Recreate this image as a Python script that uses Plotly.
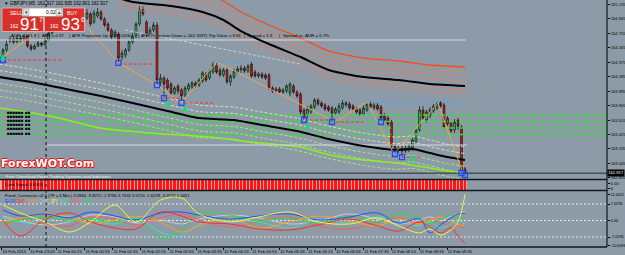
import plotly.graph_objects as go

# ---------------- DATA ----------------
opens = [164.444,164.537,164.655,164.681,164.642,164.694,164.668,164.721,164.589,164.550,
         164.589,164.629,164.602,164.668,164.760,164.826,164.878,164.852,164.918,164.892,
         164.957,164.931,164.997,164.970,164.957,165.010,164.905,164.984,165.036,164.944,
         164.878,164.800,164.721,164.747,164.444,164.471,164.537,164.642,164.721,164.878,
         165.063,164.905,164.747,164.800,164.865,164.116,164.168,164.142,164.089,163.971,
         164.063,164.011,163.945,164.024,164.050,164.103,164.076,164.129,164.221,164.168,
         164.247,164.326,164.274,164.208,164.274,164.116,164.181,164.247,164.274,164.300,
         164.260,164.352,164.247,164.195,164.221,164.208,164.208,164.037,163.997,164.024,
         163.984,163.997,163.971,164.063,163.984,163.958,163.748,163.682,163.721,163.787,
         163.879,163.840,163.813,163.787,163.774,163.708,163.721,163.774,163.813,163.826,
         163.800,163.761,163.748,163.695,163.748,163.826,163.774,163.813,163.787,163.669,
         163.642,163.590,163.274,163.222,163.248,163.208,163.222,163.248,163.340,163.485,
         163.748,163.616,163.669,163.734,163.774,163.840,163.813,163.642,163.577,163.485,
         163.616,163.524,162.972]
highs = [164.563,164.668,164.721,164.707,164.734,164.734,164.747,164.734,164.615,164.615,
         164.655,164.642,164.694,164.800,164.852,164.905,164.918,164.944,164.957,164.984,
         164.997,165.023,165.036,165.049,165.076,165.036,165.063,165.089,165.063,164.970,
         164.905,164.826,164.800,164.773,164.537,164.563,164.668,164.760,164.905,165.128,
         165.115,164.931,164.839,164.905,164.905,164.221,164.195,164.168,164.116,164.063,
         164.089,164.037,164.063,164.103,164.129,164.129,164.168,164.260,164.247,164.287,
         164.379,164.379,164.300,164.300,164.300,164.221,164.287,164.326,164.339,164.326,
         164.352,164.379,164.274,164.247,164.247,164.234,164.234,164.063,164.050,164.050,
         164.037,164.089,164.116,164.089,164.011,163.984,163.774,163.800,163.826,163.905,
         163.905,163.866,163.840,163.813,163.800,163.787,163.840,163.879,163.866,163.853,
         163.826,163.787,163.774,163.813,163.853,163.853,163.840,163.840,163.813,163.708,
         163.682,163.616,163.300,163.274,163.274,163.287,163.300,163.379,163.524,163.800,
         163.800,163.748,163.787,163.826,163.853,163.866,163.840,163.669,163.603,163.629,
         163.642,163.550,162.998]
lows = [164.405,164.510,164.629,164.615,164.629,164.642,164.655,164.563,164.523,164.537,
        164.576,164.576,164.589,164.655,164.734,164.800,164.826,164.839,164.865,164.878,
        164.905,164.918,164.944,164.957,164.931,164.852,164.878,164.957,164.918,164.839,
        164.773,164.681,164.694,164.366,164.405,164.431,164.510,164.615,164.694,164.852,
        164.984,164.707,164.721,164.773,164.076,164.063,163.905,164.011,163.945,163.945,
        163.958,163.840,163.918,163.997,164.024,164.037,164.050,164.103,164.116,164.142,
        164.221,164.221,164.181,164.181,164.089,164.063,164.155,164.221,164.234,164.234,
        164.234,164.168,164.168,164.168,164.155,164.142,164.011,163.971,163.971,163.958,
        163.958,163.971,163.932,163.958,163.905,163.669,163.616,163.642,163.695,163.761,
        163.800,163.774,163.734,163.721,163.590,163.682,163.695,163.748,163.787,163.748,
        163.734,163.695,163.669,163.669,163.721,163.761,163.748,163.734,163.590,163.590,
        163.537,163.222,163.169,163.182,163.129,163.182,163.195,163.208,163.314,163.458,
        163.616,163.577,163.642,163.708,163.748,163.774,163.498,163.537,163.445,163.445,
        163.485,162.919,162.893]
closes = [164.537,164.615,164.681,164.642,164.694,164.668,164.721,164.589,164.550,164.589,
          164.629,164.602,164.668,164.760,164.826,164.878,164.852,164.918,164.892,164.957,
          164.931,164.997,164.970,165.010,165.023,164.878,165.023,165.036,164.944,164.865,
          164.800,164.707,164.773,164.431,164.497,164.537,164.642,164.721,164.878,165.063,
          165.010,164.747,164.800,164.865,164.142,164.168,164.089,164.037,163.971,164.037,
          163.997,163.932,164.037,164.076,164.103,164.063,164.142,164.234,164.142,164.260,
          164.339,164.247,164.208,164.274,164.116,164.195,164.260,164.287,164.300,164.260,
          164.326,164.195,164.195,164.221,164.181,164.168,164.037,163.997,164.024,163.984,
          164.011,164.063,164.089,163.984,163.932,163.721,163.655,163.761,163.800,163.879,
          163.826,163.800,163.761,163.748,163.708,163.761,163.800,163.840,163.840,163.774,
          163.761,163.721,163.695,163.774,163.826,163.787,163.813,163.761,163.642,163.616,
          163.563,163.274,163.222,163.248,163.208,163.248,163.274,163.353,163.485,163.748,
          163.642,163.721,163.748,163.800,163.826,163.800,163.524,163.563,163.471,163.590,
          163.537,162.959,162.917]
bar_idx = list(range(len(closes)))

# moving averages (index, price)
ma_low_idx = [-1, 8, 18, 28, 37, 47, 56, 66, 74, 84, 93, 103, 112, 117, 122, 127, 132]
ma_low_val = [164.181, 164.116, 164.024, 163.932, 163.840, 163.734, 163.642, 163.616, 163.550,
              163.471, 163.366, 163.274, 163.222, 163.235, 163.182, 163.129, 163.090]
ma_top_idx = [33, 37, 48, 57, 63, 68, 76, 85, 93, 103, 113, 122, 132]
ma_top_val = [165.220, 165.168, 165.115, 165.036, 164.931, 164.786, 164.615, 164.444,
              164.274, 164.181, 164.142, 164.089, 164.063]
top_env_offsets = [0.250, 0.184, 0.131, 0.066, -0.039, -0.105]
low_env_offsets = [0.170, 0.085, -0.085, -0.170, -0.255]
lime_idx = [-1, 13.4, 27.7, 42, 59.1, 70.6, 84.9, 93.4, 102.9, 112.6, 122, 132]
lime_val = [163.774, 163.669, 163.511, 163.445, 163.392, 163.327, 163.261, 163.156,
            163.090, 163.051, 162.985, 162.906]
green_levels = [163.682, 163.597, 163.511, 163.426]

zig_idx = [0, 19.1, 33.1, 44, 51, 61.1, 94.9, 104, 111.7, 124.3, 131.4]
zig_val = [164.444, 165.089, 164.366, 164.076, 163.840, 164.379, 163.590, 163.853,
           163.169, 163.840, 162.919]
trend_idx = [34.9, 84.9]
trend_val = [164.800, 164.352]

red_lvl_start = [0, 33.1, 45.4, 52, 86.3, 95.1, 114]
red_lvl_end = [17.1, 44, 50.6, 60, 94.9, 103.4, 119.1]
red_lvl_val = [164.405, 164.352, 163.905, 163.840, 163.616, 163.590, 163.129]
blue_lvl_start = [61.1, 104]
blue_lvl_end = [71.1, 131]
blue_lvl_val = [164.379, 163.853]
gray_lvl_start = [-1, 12.6]
gray_lvl_end = [132.3, 132.6]
gray_lvl_val = [164.668, 163.287]
bid_price = 162.917

square_idx = [0, 33, 44, 46, 51, 86, 94, 108, 112, 114, 131, 132]
arrow_idx = [0, 47, 52, 87, 117]
arrow_val = [164.484, 163.879, 163.813, 163.577, 163.156]
separator_idx = [12.3]

main_ticks = [165.135, 164.945, 164.755, 164.565, 164.375, 164.185, 163.995, 163.805,
              163.615, 163.425, 163.235, 163.045, 162.855]
lumi_vals = [1] * len(closes)

osc_idx = [0, 5, 12, 19, 25, 32, 38, 45, 51, 56, 65, 73, 82, 90, 99, 107, 113, 119, 122, 125, 128, 130, 132]
osc_series = {
    "CHF": [1.9, -0.2, -1.9, -0.6, 2.3, 1.5, -1.1, 0.2, -1.5, 0.6, 2.3, 1.1, -1.5, -0.2, 2.8, 0.6, -1.5, 0.2, 1.5, -0.2, 1.9, 2.8, 3.75],
    "CAD": [-2.3, 0.6, -1.5, -2.3, 1.5, 0.6, -1.9, 1.1, 2.8, 0.2, -2.8, -0.2, 1.5, -2.3, -3.6, -0.6, 1.1, -1.1, 0.6, -0.6, -2.8, -2.3, -3.38],
    "NZD": [1.1, -0.6, -0.2, 1.9, 0.2, -1.5, 1.1, -4.9, -6.6, -1.5, 0.2, -0.6, -3.2, 0.6, -1.1, 1.5, -0.2, -2.3, -0.6, -3.2, -1.5, 0.2, -1.61],
    "USD": [-1.1, 0.2, 1.5, -0.2, 0.6, -0.6, 0.6, -7.5, -4.0, 3.2, 2.3, -0.2, 1.1, -1.1, 1.9, -0.6, 2.8, 1.1, -1.5, 0.6, 2.3, 1.1, 1.25],
    "AUD": [-0.6, 1.1, 2.8, 1.5, -1.5, 0.2, 1.9, -0.6, -4.9, -2.3, 1.1, -3.2, -0.6, 1.9, -0.2, -2.3, 0.6, -1.5, 0.2, 1.5, -0.2, -1.9, -1.98],
    "EUR": [4.5, 1.9, 2.8, 1.1, 3.6, 1.9, 0.2, 3.2, 3.6, 2.3, 0.6, 1.9, 2.8, 0.2, 1.5, 3.2, -1.1, 0.6, -5.3, -1.9, 1.1, 2.8, 3.1],
    "GBP": [0.2, -6.6, 0.6, 3.2, -0.6, -3.2, -3.6, 3.6, 1.9, -0.6, -1.5, -3.6, -4.0, -1.9, 0.6, -2.3, -4.5, -0.6, -2.8, -5.3, -3.2, -6.6, -9.83],
    "JPY": [6.6, 3.2, -0.6, -4.9, -0.6, 6.6, -0.6, 8.7, 9.6, 2.8, -0.6, 1.5, 3.6, -0.6, -1.5, 1.1, -2.3, -5.3, -3.6, -6.2, -4.0, -0.6, 11.04],
}
osc_colors = {"EUR": "#1F4FFF", "GBP": "#FF2A2A", "AUD": "#FFA21A", "CHF": "#C8CCD0",
              "JPY": "#F5F53C", "NZD": "#3FE0C8", "CAD": "#FF5A5A", "USD": "#25E03A"}
osc_order = ["EUR", "GBP", "AUD", "CHF", "JPY", "NZD", "CAD", "USD"]
osc_levels = [7.0296, 0.0, -7.0296]
osc_ticks = [11.0421, 7.0296, 0.0, -7.0296, -10.6096]
osc_ticktext = ["11.0421", "7.0296", "0.00", "-7.0296", "-10.6096"]

x_tick_pos = [-0.3, 7.6, 15.4, 23.4, 31.4, 39.4, 47.4, 55.4, 63.1, 71.1, 79.1, 87.1, 95.1,
              103.1, 110.9, 118.9, 126.9]
x_tick_text = ["10 Feb 2016", "10 Feb 23:05", "11 Feb 00:15", "11 Feb 00:55", "11 Feb 01:35",
               "11 Feb 02:15", "11 Feb 02:55", "11 Feb 03:35", "11 Feb 04:15", "11 Feb 04:55",
               "11 Feb 05:35", "11 Feb 06:15", "11 Feb 06:55", "11 Feb 07:35", "11 Feb 08:15",
               "11 Feb 08:55", "11 Feb 09:35"]

signal_rows = ["\u25a0\u25a0\u25a0\u25a0\u25a0\u25a0 \u25a0\u25a0"] * 6

# ---------------- LAYOUT HELPERS ----------------
W, H = 625, 255
MR, MB = 18, 8
PW, PH = W - MR, H - MB
BG = "#8C9BA7"
FONT = "Liberation Sans"
XR = [-3 / 3.5, (PW - 3) / 3.5]


def px(x):
    return x / PW


def py(y):
    return 1 - y / PH


fig = go.Figure()

for lv in green_levels:
    fig.add_trace(go.Scatter(x=[XR[0], XR[1]], y=[lv, lv], mode="lines",
                             line=dict(color="#22EE22", width=1.6, dash="4px,2px,1px,2px"),
                             hoverinfo="skip"))

for off in low_env_offsets:
    col = "#D4E3B0" if off > 0 else "#A8E67F"
    fig.add_trace(go.Scatter(x=ma_low_idx, y=[v + off for v in ma_low_val], mode="lines",
                             line=dict(color=col, width=1, dash="3px,2px", shape="spline", smoothing=0.6),
                             hoverinfo="skip"))
for k, off in enumerate(top_env_offsets):
    fig.add_trace(go.Scatter(x=ma_top_idx, y=[v + off for v in ma_top_val], mode="lines",
                             line=dict(color="#FF4A10" if k == 0 else "#FF7A45",
                                       width=1.3 if k == 0 else 1,
                                       dash="solid" if k == 0 else "3px,2px",
                                       shape="spline", smoothing=0.6),
                             hoverinfo="skip"))
fig.add_trace(go.Scatter(x=lime_idx, y=lime_val, mode="lines",
                         line=dict(color="#8CF01E", width=1.5, shape="spline", smoothing=0.6),
                         hoverinfo="skip"))

for s, e, v in zip(gray_lvl_start, gray_lvl_end, gray_lvl_val):
    fig.add_trace(go.Scatter(x=[s, e], y=[v, v], mode="lines",
                             line=dict(color="#D5DCE2", width=1), hoverinfo="skip"))
fig.add_trace(go.Scatter(x=trend_idx, y=trend_val, mode="lines",
                         line=dict(color="#C9D1D8", width=1, dash="3px,2px"), hoverinfo="skip"))
fig.add_trace(go.Scatter(x=[XR[0], XR[1]], y=[bid_price, bid_price], mode="lines",
                         line=dict(color="#252A30", width=1), hoverinfo="skip"))

fig.add_trace(go.Scatter(x=ma_low_idx, y=ma_low_val, mode="lines",
                         line=dict(color="#000000", width=2, shape="spline", smoothing=0.6),
                         hoverinfo="skip"))
fig.add_trace(go.Scatter(x=ma_top_idx, y=ma_top_val, mode="lines",
                         line=dict(color="#000000", width=2, shape="spline", smoothing=0.6),
                         hoverinfo="skip"))

fig.add_trace(go.Scatter(x=zig_idx, y=zig_val, mode="lines",
                         line=dict(color="#E8A850", width=1), hoverinfo="skip"))

for s, e, v in zip(red_lvl_start, red_lvl_end, red_lvl_val):
    fig.add_trace(go.Scatter(x=[s, e], y=[v, v], mode="lines",
                             line=dict(color="#FF2A2A", width=1, dash="3px,2px"), hoverinfo="skip"))
for s, e, v in zip(blue_lvl_start, blue_lvl_end, blue_lvl_val):
    fig.add_trace(go.Scatter(x=[s, e], y=[v, v], mode="lines",
                             line=dict(color="#3AA8FF", width=1, dash="3px,2px"), hoverinfo="skip"))

fig.add_trace(go.Candlestick(x=bar_idx, open=opens, high=highs, low=lows, close=closes,
                             increasing=dict(fillcolor="#2BCB6A", line=dict(color="#111111", width=0.7)),
                             decreasing=dict(fillcolor="#F01010", line=dict(color="#111111", width=0.7)),
                             whiskerwidth=0, hoverinfo="skip", showlegend=False))

fig.add_trace(go.Scatter(x=square_idx, y=[lows[i] for i in square_idx], mode="markers",
                         marker=dict(symbol="square-open", size=5, color="#1E4BFF",
                                     line=dict(width=1.3, color="#1E4BFF")), hoverinfo="skip"))
fig.add_trace(go.Scatter(x=arrow_idx, y=arrow_val, mode="markers",
                         marker=dict(symbol="arrow-up", size=6, color="#10E070",
                                     line=dict(width=0)), hoverinfo="skip"))

fig.add_trace(go.Bar(x=bar_idx, y=lumi_vals, yaxis="y2", width=0.72,
                     marker=dict(color="#FF1515", line=dict(width=0)), hoverinfo="skip"))

for lv in osc_levels:
    fig.add_trace(go.Scatter(x=[XR[0], XR[1]], y=[lv, lv], yaxis="y3", mode="lines",
                             line=dict(color="#E6E9EC", width=1, dash="2px,2px"), hoverinfo="skip"))
for name, vals in osc_series.items():
    fig.add_trace(go.Scatter(x=osc_idx, y=vals, yaxis="y3", mode="lines",
                             line=dict(color=osc_colors[name], width=1, shape="spline", smoothing=1.0),
                             hoverinfo="skip"))

# ---------------- SHAPES ----------------
shapes = []
line_col = "#15181B"
for sx in separator_idx:
    shapes.append(dict(type="line", xref="x", yref="paper", x0=sx, x1=sx, y0=0, y1=1,
                       line=dict(color="#111111", width=1, dash="dot")))
shapes.append(dict(type="rect", xref="x", yref="paper", x0=XR[0], x1=132.5,
                   y0=py(190), y1=py(180), fillcolor="#F3A6A6", line=dict(width=0), layer="below"))
for yy in [179.5, 190.5]:
    shapes.append(dict(type="line", xref="paper", yref="paper", x0=0, x1=1, y0=py(yy), y1=py(yy),
                       line=dict(color=line_col, width=1.5)))
shapes.append(dict(type="line", xref="paper", yref="paper", x0=0, x1=1, y0=0, y1=0,
                   line=dict(color=line_col, width=1.5)))
shapes.append(dict(type="line", xref="paper", yref="paper", x0=1, x1=1, y0=0, y1=1,
                   line=dict(color=line_col, width=1.2)))
shapes.append(dict(type="rect", xref="paper", yref="paper", x0=px(2), x1=px(43.5), y0=py(31.5), y1=py(8),
                   fillcolor="#D8302A", line=dict(color="#F2B8B0", width=0.8)))
shapes.append(dict(type="rect", xref="paper", yref="paper", x0=px(44.5), x1=px(84.5), y0=py(31.5), y1=py(8),
                   fillcolor="#D8302A", line=dict(color="#F2B8B0", width=0.8)))
shapes.append(dict(type="rect", xref="paper", yref="paper", x0=px(22), x1=px(63), y0=py(16.5), y1=py(8),
                   fillcolor="#FFFFFF", line=dict(color="#7A7A7A", width=0.6)))
shapes.append(dict(type="rect", xref="paper", yref="paper", x0=px(23), x1=px(29), y0=py(15.5), y1=py(9),
                   fillcolor="#E4E4E4", line=dict(color="#8A8A8A", width=0.5)))
shapes.append(dict(type="rect", xref="paper", yref="paper", x0=px(56), x1=px(62), y0=py(15.5), y1=py(9),
                   fillcolor="#E4E4E4", line=dict(color="#8A8A8A", width=0.5)))

# ---------------- ANNOTATIONS ----------------
ann = []


def txt(x, y, s, size=4.6, color="#000000", anchor="left", bold=False, family=FONT, **kw):
    d = dict(xref="paper", yref="paper", x=px(x), y=py(y), text=("<b>%s</b>" % s) if bold else s,
             showarrow=False, xanchor=anchor, yanchor="middle",
             font=dict(size=size, color=color, family=family))
    d.update(kw)
    ann.append(d)


txt(2, 3, "\u25bc GBPJPY,M5  162.917 162.935 162.901 162.917")
txt(16, 13, "SELL", size=5, color="#FFFFFF", anchor="center")
txt(72, 13, "BUY", size=5, color="#FFFFFF", anchor="center")
txt(51, 12.3, "0.02", size=5, color="#000000", anchor="center")
txt(26, 12.3, "\u25be", size=5, color="#333333", anchor="center")
txt(59, 12.3, "\u25b4", size=5, color="#333333", anchor="center")
txt(14, 26.5, "162", size=5, color="#FFFFFF", anchor="center")
txt(29.5, 24.5, "91", size=17, color="#FFFFFF", anchor="center")
txt(40.5, 19.5, "7", size=7, color="#FFFFFF", anchor="center")
txt(54, 26.5, "162", size=5, color="#FFFFFF", anchor="center")
txt(70, 24.5, "93", size=17, color="#FFFFFF", anchor="center")
txt(82.5, 19.5, "6", size=7, color="#FFFFFF", anchor="center")

info_items = [(9, "ADR = 161.9"), (36, "|"), (40, "ATR = 0.37"), (67, "|"),
              (70, "ATR Projection Up = 163.0030"), (135.5, "|"),
              (139, "ATR Projection Down = 162.3037"), (204, "|"), (207, "Pip Value = 9.61"),
              (241.5, "|"), (245, "Spread = 1.9"), (277, "|"), (281, "Spread vs. ADR = 0.7%")]
for x, s in info_items:
    txt(x, 35, s, size=4.4)

for k, row in enumerate(signal_rows):
    txt(5, 112 + 4.2 * k, row, size=4.6, color="#050505")

wm_shadow = "1px 0 0 #E01818, -1px 0 0 #E01818, 0 1px 0 #E01818, 0 -1px 0 #E01818, 1px 1px 0 #E01818"
ann.append(dict(xref="paper", yref="paper", x=px(48), y=py(163.5), text="<b>ForexWOT.Com</b>",
                showarrow=False, xanchor="center", yanchor="middle",
                font=dict(size=11, color="#FFFFFF", family="DejaVu Sans", shadow=wm_shadow)))
txt(4, 176, "Free Download Forex Trading Systems and Indicators", size=4.4, color="#EEEEEE")

txt(3, 184.5, "Lumi Signal 0.0000", size=4.4)
txt(3, 195.5, "Fixed_Currencies v2.0 (TF = 5 Min.) 3.0984 -9.8272 -1.9780 3.7534 3.0716 -1.6078 -3.3772 1.2451",
    size=4.2)
leg_x = [3, 13, 25, 37, 48, 58, 68, 80]
for x, name in zip(leg_x, osc_order):
    txt(x, 201.5, name, size=4.6, color=osc_colors[name])

ann.append(dict(xref="paper", yref="y", x=1, y=bid_price, text="162.917", showarrow=False,
                xanchor="left", yanchor="middle", bgcolor="#000000", borderpad=0.3,
                font=dict(size=4.1, color="#FFFFFF", family=FONT)))

# ---------------- AXES ----------------
ytickfont = dict(size=4.1, color="#000000", family=FONT)
xtickfont = dict(size=4.2, color="#000000", family=FONT)
common_y = dict(side="right", anchor="x", showgrid=False, zeroline=False, automargin=False,
                ticks="outside", ticklen=2, tickcolor="#000000", tickfont=ytickfont,
                ticklabelstandoff=0, fixedrange=True)
fig.update_layout(
    width=W, height=H,
    margin=dict(l=0, r=MR, t=0, b=MB, pad=0, autoexpand=False),
    paper_bgcolor=BG, plot_bgcolor=BG,
    showlegend=False, bargap=0,
    shapes=shapes, annotations=ann,
    xaxis=dict(domain=[0, 1], range=XR, anchor="y3", showgrid=False, zeroline=False,
               tickvals=x_tick_pos, ticktext=x_tick_text, ticks="outside", ticklen=2,
               tickcolor="#000000", tickfont=xtickfont, ticklabelposition="outside right",
               tickangle=0, automargin=False,
               rangeslider=dict(visible=False), showline=False, fixedrange=True),
    yaxis=dict(domain=[py(179.5), 1], range=[165.194 - 179.5 * 0.013149, 165.194],
               tickvals=main_ticks, ticktext=["%.3f" % t for t in main_ticks], **common_y),
    yaxis2=dict(domain=[py(190.5), py(180)], range=[0, 1],
                tickvals=[0.67, 0.23], ticktext=["0.00", "0"], **common_y),
    yaxis3=dict(domain=[0, py(191)], range=[-11.29, 12.57],
                tickvals=osc_ticks, ticktext=osc_ticktext,
                **{**common_y, "tickfont": dict(size=3.8, color="#000000", family=FONT)}),
)

fig.write_html("out.html")
